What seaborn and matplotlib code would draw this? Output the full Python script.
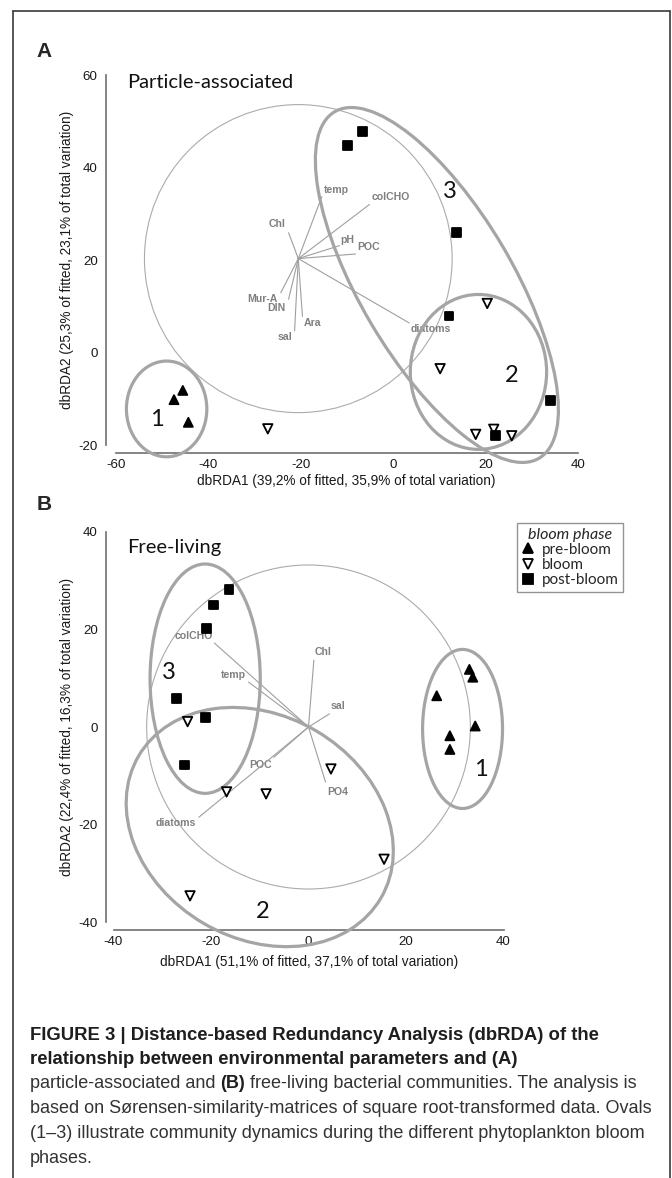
import matplotlib
matplotlib.use("Agg")
import numpy as np
import pandas as pd
import matplotlib.pyplot as plt
import seaborn as sns
from matplotlib.patches import Ellipse, Circle
from matplotlib.lines import Line2D

sns.set_style("white")
plt.rcParams["font.family"] = ["Liberation Sans", "DejaVu Sans"]
plt.rcParams["axes.unicode_minus"] = False

# ---------------- panel A: particle-associated ----------------
a_phase = ["pre-bloom"] * 3 + ["bloom"] * 6 + ["post-bloom"] * 6
a_x = [-45.5, -47.4, -44.3, -27.1, 20.4, 10.2, 17.9, 21.8, 25.7, -9.9, -6.6, 13.8, 12.1, 34.1, 22.2]
a_y = [-8.2, -10.2, -15.1, -16.5, 10.6, -3.5, -17.7, -16.6, -18.0, 44.8, 47.8, 25.9, 7.9, -10.4, -17.9]

a_vars = ["temp", "colCHO", "Chl", "pH", "POC", "diatoms", "Mur-A", "DIN", "Ara", "sal"]
a_vec_x = [-15.4, -5.1, -22.6, -11.6, -8.1, 3.5, -24.3, -22.6, -19.6, -21.3]
a_vec_y = [33.7, 32.0, 25.9, 23.1, 21.3, 6.4, 12.9, 11.5, 7.8, 4.7]
a_lab_x = [-12.3, -0.5, -25.0, -9.9, -5.3, 8.1, -28.2, -25.3, -17.4, -23.3]
a_lab_y = [35.2, 33.7, 27.7, 24.4, 22.8, 5.1, 11.5, 9.6, 6.3, 3.3]
a_origin = (-20.5, 20.3)
a_radius = 33.3

a_oval_x = [-49.0, 18.5, 9.5]
a_oval_y = [-12.2, -4.2, 14.6]
a_oval_w = [17.4, 29.5, 87.0]
a_oval_h = [20.7, 33.5, 33.0]
a_oval_ang = [0, 0, -59.4]
a_oval_lab = ["1", "2", "3"]
a_oval_lab_x = [-51.2, 25.7, 12.3]
a_oval_lab_y = [-14.4, -4.9, 34.8]

# ---------------- panel B: free-living ----------------
b_phase = ["pre-bloom"] * 6 + ["bloom"] * 6 + ["post-bloom"] * 6
b_x = [33.0, 33.7, 26.3, 34.2, 29.0, 29.0, -24.8, -16.8, -8.7, 4.6, -24.3, 15.5,
       -16.3, -19.5, -20.9, -27.0, -21.2, -25.5]
b_y = [11.8, 10.2, 6.4, 0.2, -1.8, -4.6, 1.1, -13.3, -13.7, -8.6, -34.6, -27.1,
       28.2, 25.0, 20.2, 5.8, 2.0, -7.8]

b_vars = ["colCHO", "temp", "Chl", "sal", "POC", "PO4", "diatoms"]
b_vec_x = [-19.3, -12.3, 1.1, 4.3, -7.1, 3.5, -22.5]
b_vec_y = [17.2, 9.2, 13.7, 2.7, -6.2, -11.3, -18.5]
b_lab_x = [-23.6, -15.4, 3.0, 6.0, -9.9, 6.1, -27.2]
b_lab_y = [18.6, 10.7, 15.3, 4.3, -7.8, -13.4, -19.7]
b_origin = (0.0, 0.0)
b_radius = 33.2

b_oval_x = [31.6, -10.0, -21.2]
b_oval_y = [-0.4, -20.5, 9.9]
b_oval_w = [16.4, 57.6, 22.6]
b_oval_h = [32.6, 45.7, 47.0]
b_oval_ang = [0, -30.4, 0]
b_oval_lab = ["1", "2", "3"]
b_oval_lab_x = [35.3, -9.3, -28.6]
b_oval_lab_y = [-8.8, -37.8, 11.1]

phases = ["pre-bloom", "bloom", "post-bloom"]
marker_map = {"pre-bloom": "^", "bloom": "v", "post-bloom": "s"}
color_map = {"pre-bloom": "black", "bloom": "white", "post-bloom": "black"}
size_map = {"pre-bloom": 42, "bloom": 46, "post-bloom": 40}

W, H = 672, 1178
fig = plt.figure(figsize=(W / 100, H / 100), dpi=100)

GRID = "#6f6f6f"
OVAL = "#a5a5a5"
VEC = "#9f9f9f"
VLAB = "#808080"


def add_axes_px(x0, sx, y0, sy, xlim, ylim):
    left = x0 + xlim[0] * sx
    right = x0 + xlim[1] * sx
    top = y0 - ylim[1] * sy
    bottom = y0 - ylim[0] * sy
    ax = fig.add_axes([left / W, 1 - bottom / H, (right - left) / W, (bottom - top) / H])
    ax.set_xlim(xlim)
    ax.set_ylim(ylim)
    return ax


def draw_panel(ax, df, vec, origin, radius, ovals, spine_x, spine_y, xt, yt):
    ax.add_patch(Circle(origin, radius, fill=False, ec="#ababab", lw=0.8, zorder=1))
    for _, r in vec.iterrows():
        ax.plot([origin[0], r.x], [origin[1], r.y], color=VEC, lw=0.8, zorder=2)
        ax.text(r.lx, r.ly, r["var"], ha="center", va="center", fontsize=7.6,
                fontweight="bold", color=VLAB, zorder=2)
    for _, o in ovals.iterrows():
        ax.add_patch(Ellipse((o.x, o.y), o.w, o.h, angle=o.ang, fill=False, ec=OVAL,
                             lw=2.3, zorder=3, clip_on=False))
        ax.text(o.lx, o.ly, o.lab, ha="center", va="center", fontsize=17,
                family=["Lato", "DejaVu Sans"], color="#111111", zorder=4)
    sns.scatterplot(data=df, x="x", y="y", hue="phase", style="phase", size="phase",
                    hue_order=phases, style_order=phases, size_order=phases,
                    palette=color_map, markers=marker_map, sizes=size_map,
                    edgecolor="black", linewidth=1.3, legend=False, ax=ax, zorder=5,
                    clip_on=False)
    sns.despine(ax=ax)
    ax.spines["left"].set_position(("data", spine_x))
    ax.spines["bottom"].set_position(("data", spine_y))
    ax.spines["left"].set_bounds(yt[0], yt[-1])
    ax.spines["bottom"].set_bounds(xt[0], xt[-1])
    for s in ["left", "bottom"]:
        ax.spines[s].set_color(GRID)
        ax.spines[s].set_linewidth(1.2)
    ax.set_xticks(xt)
    ax.set_yticks(yt)
    ax.tick_params(direction="inout", length=7, width=1.2, color=GRID,
                   labelsize=9.6, labelcolor="#1a1a1a")
    ax.tick_params(axis="y", pad=2.6)
    ax.tick_params(axis="x", pad=0.8)
    ax.set_xlabel("")
    ax.set_ylabel("")
    ax.patch.set_alpha(0)


# panel A
axA = add_axes_px(393, 4.62, 352.5, 4.625, (-64, 44), (-26, 64))
dfA = pd.DataFrame({"x": a_x, "y": a_y, "phase": a_phase})
vecA = pd.DataFrame({"var": a_vars, "x": a_vec_x, "y": a_vec_y, "lx": a_lab_x, "ly": a_lab_y})
ovA = pd.DataFrame({"x": a_oval_x, "y": a_oval_y, "w": a_oval_w, "h": a_oval_h,
                    "ang": a_oval_ang, "lab": a_oval_lab, "lx": a_oval_lab_x, "ly": a_oval_lab_y})
draw_panel(axA, dfA, vecA, a_origin, a_radius, ovA, -62.1, -21.7,
           [-60, -40, -20, 0, 20, 40], [-20, 0, 20, 40, 60])

# panel B
axB = add_axes_px(308.5, 4.875, 727, 4.88, (-43, 43), (-44, 44))
dfB = pd.DataFrame({"x": b_x, "y": b_y, "phase": b_phase})
vecB = pd.DataFrame({"var": b_vars, "x": b_vec_x, "y": b_vec_y, "lx": b_lab_x, "ly": b_lab_y})
ovB = pd.DataFrame({"x": b_oval_x, "y": b_oval_y, "w": b_oval_w, "h": b_oval_h,
                    "ang": b_oval_ang, "lab": b_oval_lab, "lx": b_oval_lab_x, "ly": b_oval_lab_y})
draw_panel(axB, dfB, vecB, b_origin, b_radius, ovB, -41.5, -41.7,
           [-40, -20, 0, 20, 40], [-40, -20, 0, 20, 40])


def ftext(x, y, s, **kw):
    return fig.text(x / W, 1 - y / H, s, **kw)


# axis titles
ftext(346, 481, "dbRDA1 (39,2% of fitted, 35,9% of total variation)", ha="center", va="center",
      fontsize=9.8, color="#1a1a1a")
ftext(67, 260, "dbRDA2 (25,3% of fitted, 23,1% of total variation)", ha="center", va="center",
      rotation=90, fontsize=9.8, color="#1a1a1a")
ftext(309, 962, "dbRDA1 (51,1% of fitted, 37,1% of total variation)", ha="center", va="center",
      fontsize=9.8, color="#1a1a1a")
ftext(67, 727, "dbRDA2 (22,4% of fitted, 16,3% of total variation)", ha="center", va="center",
      rotation=90, fontsize=9.8, color="#1a1a1a")

# panel titles and letters
ftext(127, 88.3, "Particle-associated", ha="left", va="baseline", fontsize=14.5,
      family=["Lato", "DejaVu Sans"], color="#111111")
ftext(127, 552.7, "Free-living", ha="left", va="baseline", fontsize=14.5,
      family=["Lato", "DejaVu Sans"], color="#111111")
ftext(36, 57, "A", ha="left", va="baseline", fontsize=15, fontweight="bold")
ftext(37, 510, "B", ha="left", va="baseline", fontsize=15, fontweight="bold")

# legend
handles = [Line2D([], [], ls="", marker=marker_map[p], markersize=7.5,
                  markerfacecolor=color_map[p], markeredgecolor="black",
                  markeredgewidth=1.3) for p in phases]
leg = fig.legend(handles, phases, loc="upper left", bbox_to_anchor=(517 / W, 1 - 523 / H),
                 frameon=True, fancybox=False, edgecolor="#7a7a7a", borderaxespad=0,
                 borderpad=0.3, labelspacing=0.08, handlelength=0.8, handletextpad=0.5,
                 prop={"family": ["Lato", "DejaVu Sans"], "size": 11},
                 title="bloom phase",
                 title_fontproperties={"family": ["Lato", "DejaVu Sans"], "size": 11.5,
                                       "style": "italic"})
leg.get_frame().set_linewidth(1.0)

# outer frame
fcol = "#3a3a3a"
fig.add_artist(Line2D([13 / W, 13 / W], [0, 1 - 11 / H], color=fcol, lw=1.2))
fig.add_artist(Line2D([13 / W, 669.5 / W], [1 - 11 / H, 1 - 11 / H], color=fcol, lw=1.2))
fig.add_artist(Line2D([669.5 / W, 669.5 / W], [0, 1 - 11 / H], color=fcol, lw=1.2))

# caption
renderer = fig.canvas.get_renderer()
cap_lines = [
    [("FIGURE 3 | Distance-based Redundancy Analysis (dbRDA) of the", True)],
    [("relationship between environmental parameters and (A)", True)],
    [("particle-associated and", False), ("(B)", True),
     ("free-living bacterial communities. The analysis is", False)],
    [("based on Sørensen-similarity-matrices of square root-transformed data. Ovals", False)],
    [("(1\u20133) illustrate community dynamics during the different phytoplankton bloom", False)],
    [("phases.", False)],
]
cap_base = [1039.5, 1063.5, 1088.5, 1113.3, 1138.0, 1163.0]


def measure(s, size, bold):
    t = fig.text(0, 0, s, fontsize=size, fontweight="bold" if bold else "normal")
    w = t.get_window_extent(renderer).width
    t.remove()
    return w


bold_size = 12.6 * 570 / measure(cap_lines[0][0][0], 12.6, True)
reg_size = 12.6 * 623 / measure(cap_lines[3][0][0], 12.6, False)
space_w = measure("x x", reg_size, False) - measure("xx", reg_size, False)

for parts, yb in zip(cap_lines, cap_base):
    x = 30
    for txt, bold in parts:
        size = bold_size if bold and len(parts) == 1 else reg_size
        t = ftext(x, yb, txt, ha="left", va="baseline", fontsize=size,
                  fontweight="bold" if bold else "normal",
                  color="#1e1e1e" if bold else "#333333")
        x += t.get_window_extent(renderer).width + space_w

fig.savefig("out.png", dpi=100)
